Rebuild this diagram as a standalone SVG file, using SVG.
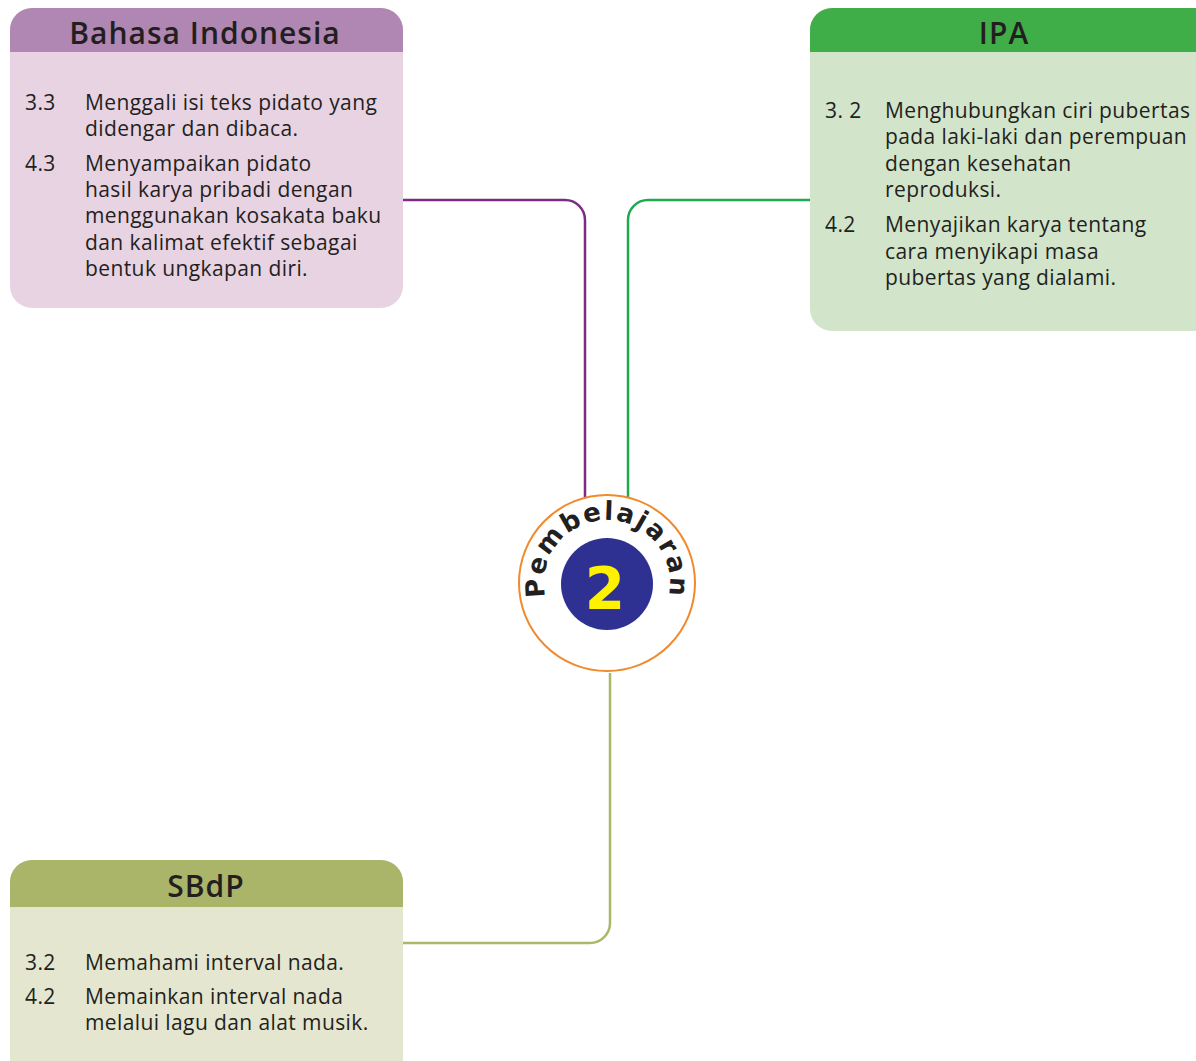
<svg xmlns="http://www.w3.org/2000/svg" width="1196" height="1061" viewBox="0 0 1196 1061">
<defs>
<style>
.title{font-family:"Open Sans","Liberation Sans",sans-serif;font-size:30px;font-weight:600;fill:#231f20;text-anchor:middle;letter-spacing:1px}
.t{font-family:"Open Sans","Liberation Sans",sans-serif;font-size:21px;fill:#231f20;letter-spacing:0.4px}
.conn{fill:none;stroke-width:2.5}
</style>
<path id="arc" d="M 547.8 604.5 A 63 63 0 1 1 666.2 604.5"/>
<clipPath id="cb"><rect x="10" y="8" width="393" height="300" rx="22"/></clipPath>
<clipPath id="ci"><rect x="810" y="8" width="410" height="323" rx="22"/></clipPath>
<clipPath id="cs"><rect x="10" y="860" width="393" height="230" rx="22"/></clipPath>
</defs>
<rect width="1196" height="1061" fill="#fff"/>
<g id="connectors">
<path class="conn" stroke="#7b2d83" d="M 403 200 H 565 A 20 20 0 0 1 585 220 V 497"/>
<path class="conn" stroke="#1faa4f" d="M 810 200 H 648 A 20 20 0 0 0 628 220 V 497"/>
<path class="conn" stroke="#a9b96a" d="M 610 673 V 923 A 20 20 0 0 1 590 943 H 403"/>
</g>
<g id="bahasa-indonesia">
<g clip-path="url(#cb)">
<rect x="10" y="8" width="393" height="300" fill="#e8d3e3"/>
<rect x="10" y="8" width="393" height="44" fill="#b086b3"/>
</g>
<text class="title" x="205" y="44">Bahasa Indonesia</text>
<text class="t" x="25" y="110">3.3</text>
<text class="t" x="85" y="110">Menggali isi teks pidato yang</text>
<text class="t" x="85" y="136">didengar dan dibaca.</text>
<text class="t" x="25" y="171">4.3</text>
<text class="t" x="85" y="171">Menyampaikan pidato</text>
<text class="t" x="85" y="197">hasil karya pribadi dengan</text>
<text class="t" x="85" y="223">menggunakan kosakata baku</text>
<text class="t" x="85" y="250">dan kalimat efektif sebagai</text>
<text class="t" x="85" y="276">bentuk ungkapan diri.</text>
</g>
<g id="ipa">
<g clip-path="url(#ci)">
<rect x="810" y="8" width="410" height="323" fill="#d2e5cb"/>
<rect x="810" y="8" width="410" height="44" fill="#3fae49"/>
</g>
<text class="title" x="1004" y="44">IPA</text>
<text class="t" x="825" y="118">3. 2</text>
<text class="t" x="885" y="118">Menghubungkan ciri pubertas</text>
<text class="t" x="885" y="144">pada laki-laki dan perempuan</text>
<text class="t" x="885" y="171">dengan kesehatan</text>
<text class="t" x="885" y="197">reproduksi.</text>
<text class="t" x="825" y="232">4.2</text>
<text class="t" x="885" y="232">Menyajikan karya tentang</text>
<text class="t" x="885" y="259">cara menyikapi masa</text>
<text class="t" x="885" y="285">pubertas yang dialami.</text>
</g>
<g id="sbdp">
<g clip-path="url(#cs)">
<rect x="10" y="860" width="393" height="230" fill="#e4e6cf"/>
<rect x="10" y="860" width="393" height="47" fill="#aab56a"/>
</g>
<text class="title" x="206" y="897">SBdP</text>
<text class="t" x="25" y="970">3.2</text>
<text class="t" x="85" y="970">Memahami interval nada.</text>
<text class="t" x="25" y="1004">4.2</text>
<text class="t" x="85" y="1004">Memainkan interval nada</text>
<text class="t" x="85" y="1030">melalui lagu dan alat musik.</text>
</g>
<g id="pembelajaran-2">
<circle cx="607" cy="583" r="88" fill="#fff" stroke="#f08a2c" stroke-width="2"/>
<circle cx="607" cy="584" r="46" fill="#2e3192"/>
<text x="605" y="609" font-family="'DejaVu Sans','Liberation Sans',sans-serif" font-weight="bold" font-size="58" fill="#fff200" text-anchor="middle">2</text>
<text font-family="'DejaVu Sans','Liberation Sans',sans-serif" font-weight="bold" font-size="26" fill="#231f20" letter-spacing="2"><textPath href="#arc" startOffset="50%" text-anchor="middle">Pembelajaran</textPath></text>
</g>
</svg>
